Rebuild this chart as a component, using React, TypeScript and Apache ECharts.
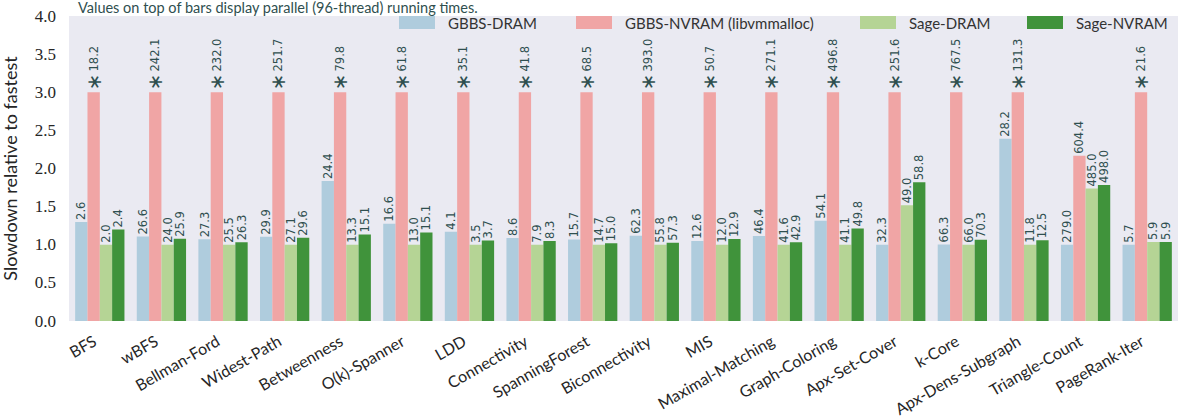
import React, { useEffect, useRef } from "react";
import * as echarts from "echarts";

const categories = [
  "BFS", "wBFS", "Bellman-Ford", "Widest-Path", "Betweenness", "O(k)-Spanner",
  "LDD", "Connectivity", "SpanningForest", "Biconnectivity", "MIS",
  "Maximal-Matching", "Graph-Coloring", "Apx-Set-Cover", "k-Core",
  "Apx-Dens-Subgraph", "Triangle-Count", "PageRank-Iter",
];

// Parallel (96-thread) running times shown on top of bars
const gbbsDram = [2.6, 26.6, 27.3, 29.9, 24.4, 16.6, 4.1, 8.6, 15.7, 62.3, 12.6, 46.4, 54.1, 32.3, 66.3, 28.2, 279.0, 5.7];
const gbbsNvram = [18.2, 242.1, 232.0, 251.7, 79.8, 61.8, 35.1, 41.8, 68.5, 393.0, 50.7, 271.1, 496.8, 251.6, 767.5, 131.3, 604.4, 21.6];
const sageDram = [2.0, 24.0, 25.5, 27.1, 13.3, 13.0, 3.5, 7.9, 14.7, 55.8, 12.0, 41.6, 41.1, 49.0, 66.0, 11.8, 485.0, 5.9];
const sageNvram = [2.4, 25.9, 26.3, 29.6, 15.1, 15.1, 3.7, 8.3, 15.0, 57.3, 12.9, 42.9, 49.8, 58.8, 70.3, 12.5, 498.0, 5.9];

const seriesNames = ["GBBS-DRAM", "GBBS-NVRAM (libvmmalloc)", "Sage-DRAM", "Sage-NVRAM"];
const yTicks = [0, 0.5, 1, 1.5, 2, 2.5, 3, 3.5, 4];
const yCap = 3.0;

const seriesColors = ["#AFCCDD", "#F0A5A5", "#B5D495", "#40933B"];
const legendLefts = [399, 576, 860, 1027];
const labelColor = "#2F4F4F";

export default function App() {
  const ref = useRef<HTMLDivElement>(null);

  useEffect(() => {
    document.body.style.margin = "0";
    if (!ref.current) return;
    const chart = echarts.init(ref.current, undefined, { renderer: "svg" });

    const allTimes = [gbbsDram, gbbsNvram, sageDram, sageNvram];
    const fastest = categories.map((_, i) => Math.min(...allTimes.map((a) => a[i])));

    const series = allTimes.map((times, s) => ({
      name: seriesNames[s],
      type: "bar",
      barGap: "0%",
      barCategoryGap: "20%",
      itemStyle: { color: seriesColors[s] },
      emphasis: { disabled: true },
      data: times.map((t, i) => {
        const ratio = t / fastest[i];
        const capped = ratio > yCap;
        return { value: capped ? yCap : ratio, time: t, capped };
      }),
      label: {
        show: true,
        position: "top",
        rotate: 90,
        align: "left",
        verticalAlign: "middle",
        distance: 2,
        color: labelColor,
        fontFamily: "DejaVu Sans",
        fontSize: 11.5,
        formatter: (p: any) =>
          p.data.capped ? `{s|∗}{v|${p.data.time.toFixed(1)}}` : `{v|${p.data.time.toFixed(1)}}`,
        rich: {
          s: { fontFamily: "DejaVu Sans", fontSize: 20, color: labelColor, padding: [0, 2, 0, 0] },
          v: { fontFamily: "DejaVu Sans", fontSize: 11.5, color: labelColor },
        },
      },
    }));

    chart.setOption({
      animation: false,
      title: {
        text: "Values on top of bars display parallel (96-thread) running times.",
        left: 78,
        top: 0,
        padding: 0,
        textStyle: { fontFamily: "Lato", fontSize: 14.5, fontWeight: "normal", color: labelColor },
      },
      legend: seriesNames.map((n, i) => ({
        data: [n],
        left: legendLefts[i],
        top: 15,
        padding: 0,
        icon: "rect",
        itemWidth: 36,
        itemHeight: 13,
        selectedMode: false,
        textStyle: { fontFamily: "Lato", fontSize: 15, color: "#333333", padding: [0, 0, 0, 8] },
      })),
      grid: {
        left: 69,
        right: 0,
        top: 16,
        bottom: 98,
        outerBoundsMode: "none",
        containLabel: false,
        show: true,
        backgroundColor: "#EAEAF2",
        borderWidth: 0,
      },
      xAxis: {
        type: "category",
        data: categories,
        axisLine: { show: false },
        axisTick: { show: false },
        axisLabel: {
          interval: 0,
          rotate: 30,
          margin: 15,
          padding: [0, 6, 0, 0],
          fontFamily: "Lato",
          fontSize: 16,
          color: "#262626",
        },
      },
      yAxis: {
        type: "value",
        min: yTicks[0],
        max: yTicks[yTicks.length - 1],
        interval: 0.5,
        axisLine: { show: false },
        axisTick: { show: false },
        splitLine: { show: false },
        axisLabel: {
          margin: 13,
          fontFamily: "'Liberation Serif', 'DejaVu Serif', serif",
          fontSize: 17,
          color: "#262626",
          formatter: (v: number) => v.toFixed(1),
        },
        name: "Slowdown relative to fastest",
        nameLocation: "middle",
        nameGap: 50,
        nameTextStyle: { fontFamily: "Lato", fontSize: 18, color: "#262626" },
      },
      series,
    });

    return () => chart.dispose();
  }, []);

  return <div ref={ref} style={{ width: 1178, height: 419 }} />;
}
